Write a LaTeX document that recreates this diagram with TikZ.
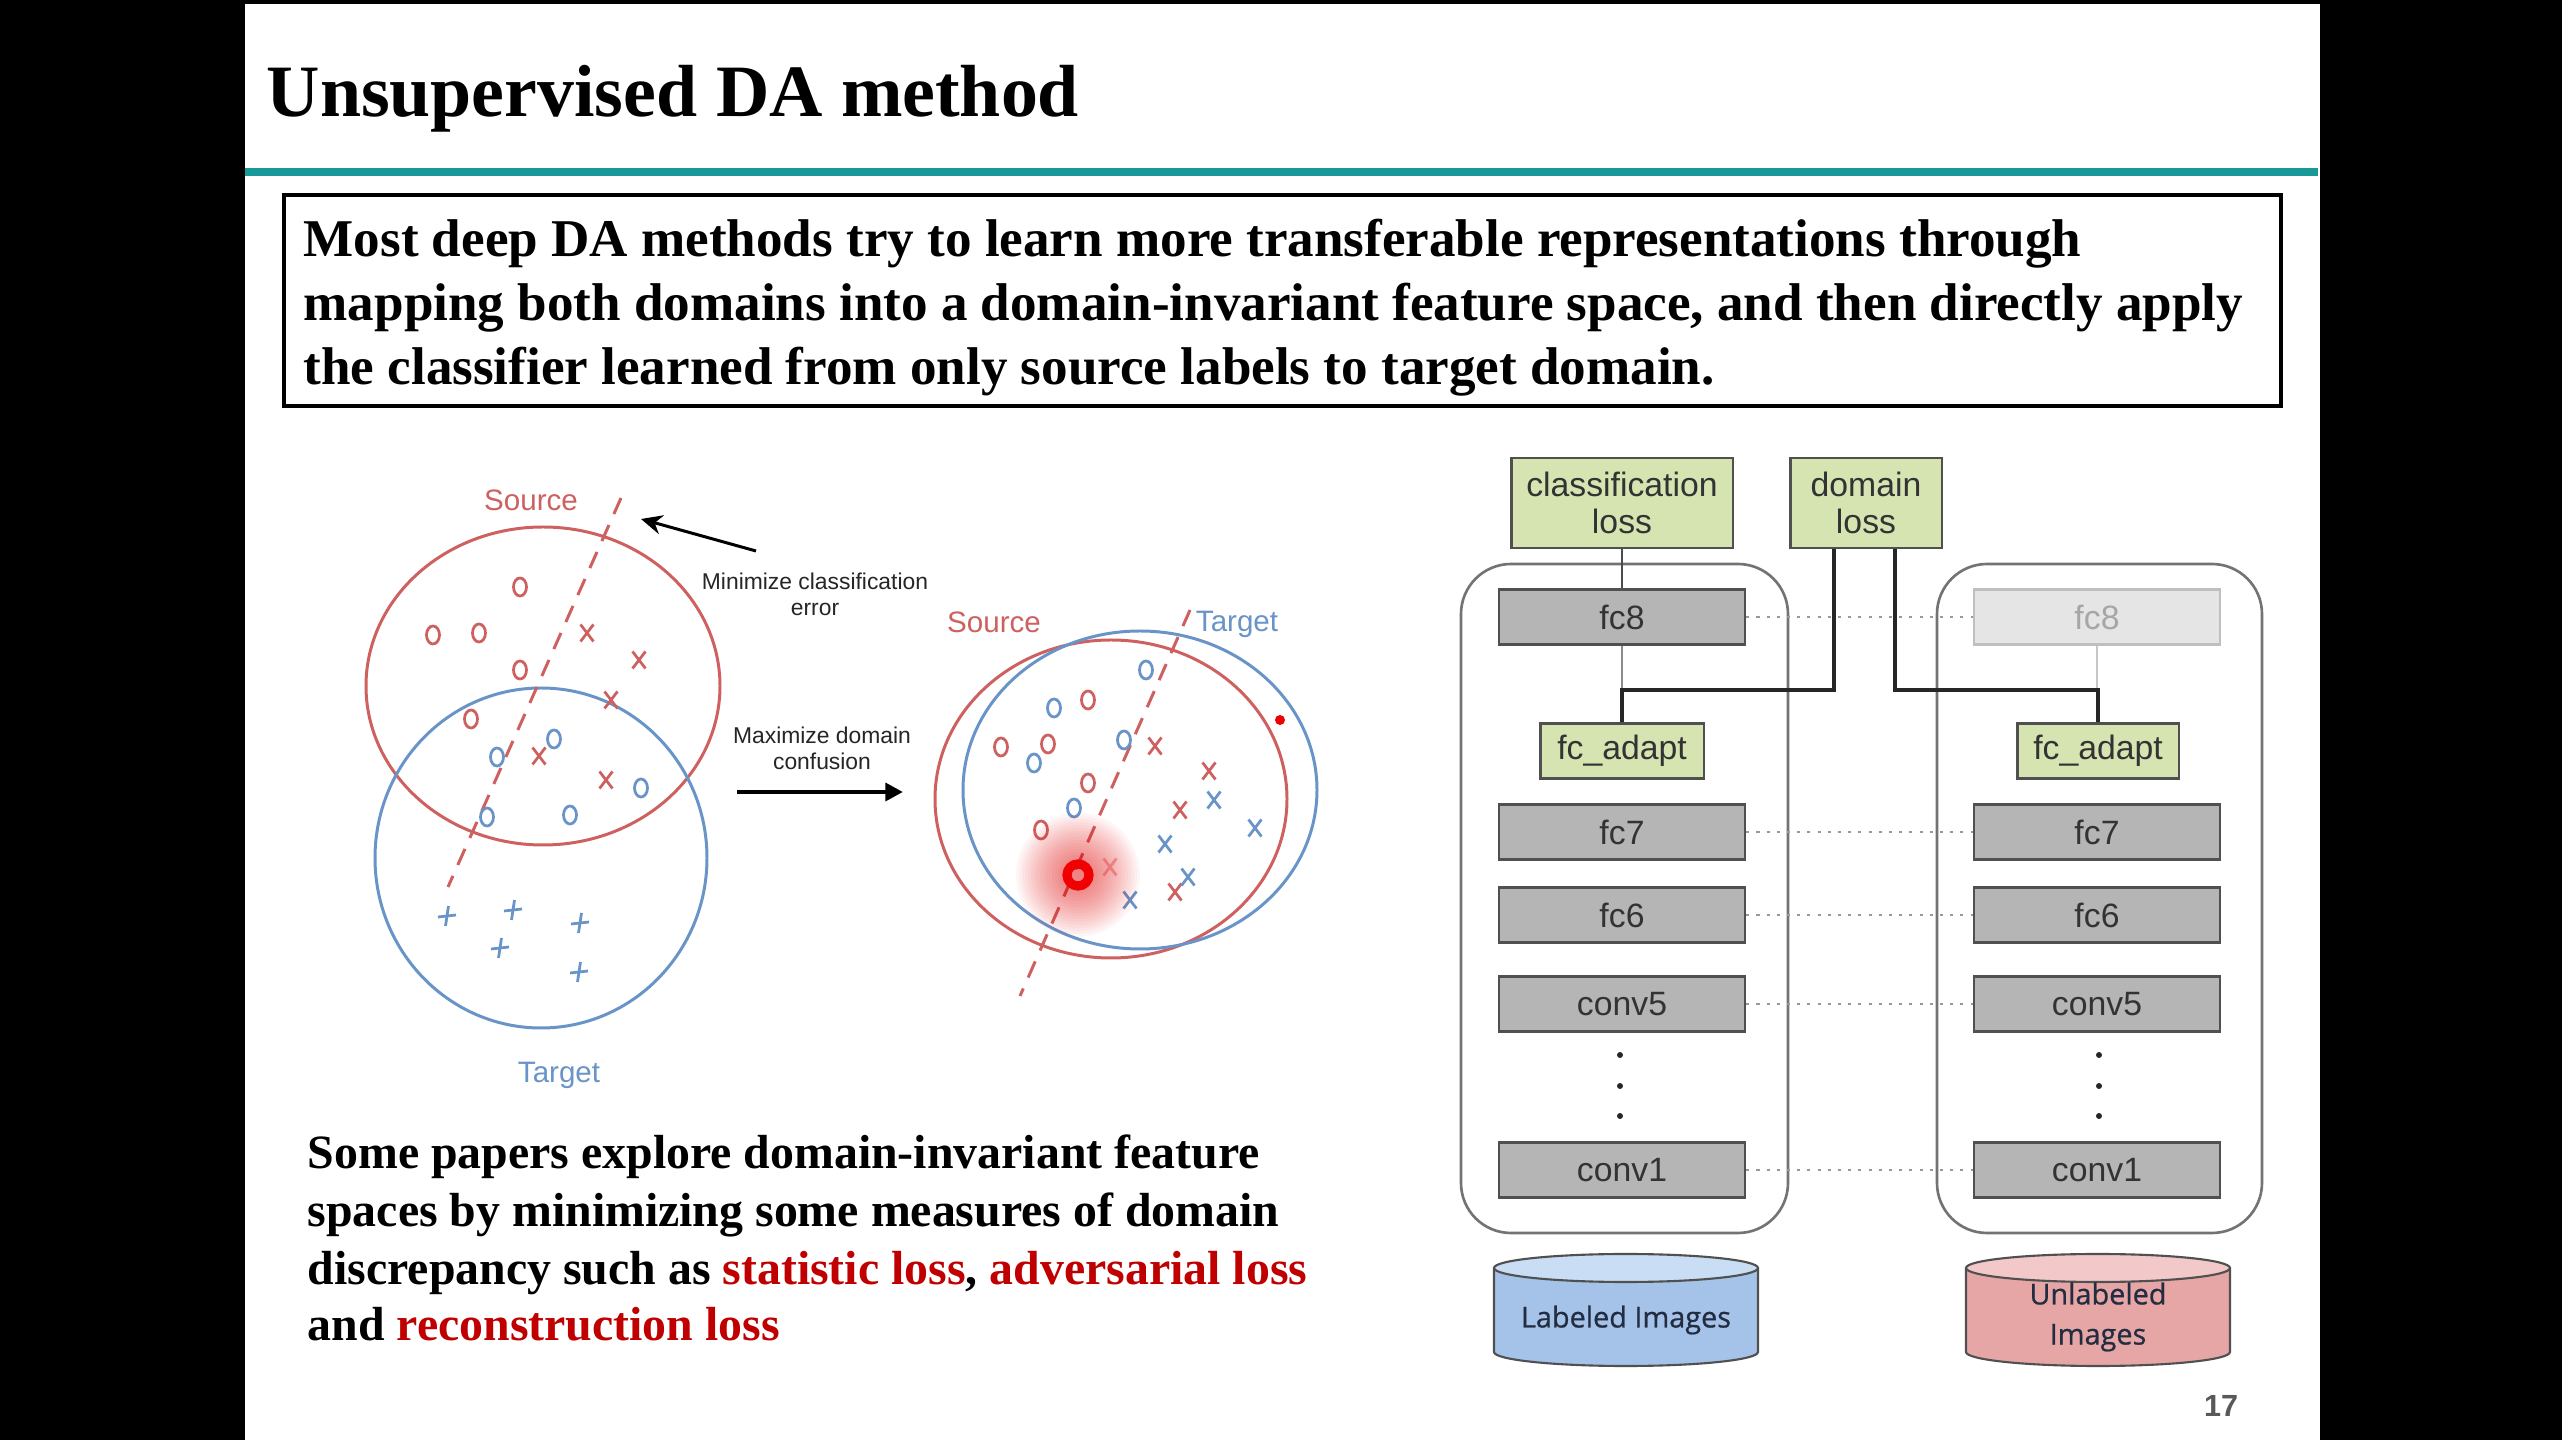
\documentclass[tikz,border=0pt]{standalone}
\usepackage{fontspec}
\setmainfont{Liberation Serif}
\setsansfont{Liberation Sans}
\newfontfamily\cylfont[FakeBold=0.7]{Open Sans}
\usetikzlibrary{arrows.meta}

\definecolor{rulecol}{RGB}{24,152,150}
\definecolor{srcred}{RGB}{206,96,96}
\definecolor{tgtblue}{RGB}{104,148,200}
\definecolor{layergray}{RGB}{181,181,181}
\definecolor{layeredge}{RGB}{80,80,80}
\definecolor{lossgreen}{RGB}{214,228,178}
\definecolor{cylblue}{RGB}{165,195,233}
\definecolor{cylbluetop}{RGB}{201,221,244}
\definecolor{cylpink}{RGB}{230,166,166}
\definecolor{cylpinktop}{RGB}{242,200,200}
\definecolor{hired}{RGB}{192,0,0}
\definecolor{pointer}{RGB}{240,0,0}
\definecolor{cyltext}{RGB}{35,45,65}

\begin{document}
\begin{tikzpicture}[x=0.01cm, y=-0.01cm,
  mk/.style={line width=0.78pt},
  mo/.pic={\draw[pic actions] (0,0) ellipse [x radius=6.5, y radius=9];},
  mx/.pic={\draw[pic actions] (-6.5,-8.5)--(6.5,8.5) (-6.5,8.5)--(6.5,-8.5);},
  mp/.pic={\draw[pic actions] (-9,1)--(9,-1) (1.5,-10)--(-1.5,10);},
  titletext/.style={anchor=base west, inner sep=0pt, font=\fontsize{21}{25}\selectfont\bfseries},
  boxtext/.style={anchor=base west, inner sep=0pt, font=\fontsize{15.1}{18}\selectfont\bfseries},
  bodytext/.style={anchor=base west, inner sep=0pt, font=\fontsize{13.6}{16}\selectfont\bfseries},
  domlabel/.style={inner sep=0pt, font=\fontsize{8.4}{10}\selectfont\sffamily},
  notelabel/.style={inner sep=0pt, align=center, text=black!85, font=\fontsize{6.5}{7.4}\selectfont\sffamily},
  ellline/.style={line width=0.85pt},
  boundary/.style={srcred, line width=0.85pt, dash pattern=on 5pt off 3.4pt},
  layer/.style={draw=layeredge, fill=layergray, line width=0.6pt, minimum width=2.46cm,
    minimum height=0.55cm, inner sep=0pt, text=black!80, font=\fontsize{9.6}{11}\selectfont\sffamily},
  ghostlayer/.style={layer, draw=black!25, fill=black!10, text=black!35},
  loss/.style={draw=layeredge, fill=lossgreen, line width=0.6pt, inner sep=0pt, align=center,
    text=black!80, font=\fontsize{9.6}{10.6}\selectfont\sffamily},
  container/.style={draw=black!55, line width=0.75pt, rounded corners=0.5cm},
  link/.style={black!70, line width=0.6pt},
  domlink/.style={black!85, line width=0.9pt},
  faintlink/.style={black!22, line width=0.6pt},
  share/.style={black!40, line width=0.75pt, dash pattern=on 0.9pt off 2pt},
  cyledge/.style={draw=layeredge, line width=0.6pt},
  cyllabel/.style={inner sep=0pt, align=center, text=cyltext, font=\cylfont\fontsize{8.2}{11.4}\selectfont}
]
\useasboundingbox (0,0) rectangle (2562,1440);

% slide background
\fill[black] (0,0) rectangle (2562,1440);
\fill[white] (245,4) rectangle (2320,1440);

% title and rule
\node[titletext] (title) at (266,117) {Unsupervised DA method};
\draw[rulecol, line width=2.3pt] (245,172) -- (2318,172);

% framed statement
\draw[line width=1.1pt] (284,195) rectangle (2281,406);
\node[boxtext] (bl1) at (303,257) {Most deep DA methods try to learn more transferable representations through};
\node[boxtext] (bl2) at (303,321) {mapping both domains into a domain-invariant feature space, and then directly apply};
\node[boxtext] (bl3) at (303,385) {the classifier learned from only source labels to target domain.};

% ---------- left scatter: before adaptation ----------
\draw[srcred, ellline] (543,686) ellipse [x radius=177, y radius=159];
\draw[tgtblue, ellline] (541,858) ellipse [x radius=166, y radius=170];
\draw[boundary] (621,498) -- (448,887);
\node[domlabel, text=srcred] (srcA) at (531,500) {Source};
\node[domlabel, text=tgtblue] (tgtA) at (559,1075) {Target};

\foreach \p in {(520,587),(433,635),(479,633),(520,670),(471,719)}
  \pic[srcred, mk] at \p {mo};
\foreach \p in {(587,633),(639,660),(611,700),(539,756),(606,780)}
  \pic[srcred, mk] at \p {mx};
\foreach \p in {(554,739),(497,757),(641,788),(487,817),(570,815)}
  \pic[tgtblue, mk] at \p {mo};
\foreach \p in {(447,916),(513,910),(580,923),(500,948),(579,972)}
  \pic[tgtblue, mk] at \p {mp};

% annotations between the two scatters
\node[notelabel] (minA) at (815,594) {Minimize classification\\error};
\coordinate (minTail) at (756,551);
\coordinate (minHead) at (641,519);
\draw[black, line width=0.85pt, -{Stealth[length=6pt, width=5.5pt]}] (minTail) -- (minHead);

\node[notelabel] (maxA) at (822,748) {Maximize domain\\confusion};
\coordinate (maxTail) at (737,792);
\coordinate (maxHead) at (903,792);
\draw[black, line width=1.4pt, -{Triangle[length=5pt, width=5pt]}] (maxTail) -- (maxHead);

% ---------- right scatter: after adaptation ----------
\draw[srcred, ellline] (1111,799) ellipse [x radius=176, y radius=159];
\draw[tgtblue, ellline] (1140,790) ellipse [x radius=177, y radius=159];
\draw[boundary] (1190,610) -- (1020,996);
\node[domlabel, text=srcred] (srcB) at (994,622) {Source};
\node[domlabel, text=tgtblue] (tgtB) at (1237,624) {Target};

\foreach \p in {(1146,670),(1054,708),(1034,763),(1124,740),(1074,808)}
  \pic[tgtblue, mk] at \p {mo};
\foreach \p in {(1088,700),(1001,747),(1048,744),(1088,783),(1041,830)}
  \pic[srcred, mk] at \p {mo};
\foreach \p in {(1155,746),(1209,771),(1180,810),(1175,892)}
  \pic[srcred, mk] at \p {mx};
\pic[srcred!45, mk] at (1110,867) {mx};
\foreach \p in {(1214,800),(1255,828),(1165,844),(1188,877),(1130,900)}
  \pic[tgtblue, mk] at \p {mx};

% pointer highlight
\foreach \r in {62,59,...,14}
  \fill[pointer, fill opacity=0.035] (1078,875) circle (\r);
\draw[pointer, line width=2.6pt] (1078,875) circle (11);
\fill[pointer] (1280,720) circle (5);

% bottom statement
\node[bodytext] (tl1) at (307,1169) {Some papers explore domain-invariant feature};
\node[bodytext] (tl2) at (307,1227) {spaces by minimizing some measures of domain};
\node[bodytext] (tl3) at (307,1285) {discrepancy such as \textcolor{hired}{statistic loss}, \textcolor{hired}{adversarial loss}};
\node[bodytext] (tl4) at (307,1341) {and \textcolor{hired}{reconstruction loss}};

% ---------- two-stream network ----------
\draw[container] (1461,564) rectangle (1788,1233);
\draw[container] (1937,564) rectangle (2262,1233);

\node[loss, minimum width=2.21cm, minimum height=0.9cm] (cls) at (1622,503) {classification\\loss};
\node[loss, minimum width=1.51cm, minimum height=0.9cm] (dom) at (1866,503) {domain\\loss};

\node[layer] (lfc8) at (1622,617) {fc8};
\node[ghostlayer] (rfc8) at (2097,617) {fc8};
\node[loss, minimum width=1.63cm, minimum height=0.55cm] (lada) at (1622,751) {fc\_adapt};
\node[loss, minimum width=1.61cm, minimum height=0.55cm] (rada) at (2098,751) {fc\_adapt};
\node[layer] (lfc7) at (1622,832) {fc7};
\node[layer] (rfc7) at (2097,832) {fc7};
\node[layer] (lfc6) at (1622,915) {fc6};
\node[layer] (rfc6) at (2097,915) {fc6};
\node[layer] (lc5) at (1622,1004) {conv5};
\node[layer] (rc5) at (2097,1004) {conv5};
\node[layer] (lc1) at (1622,1170) {conv1};
\node[layer] (rc1) at (2097,1170) {conv1};

\foreach \yy in {1055,1086,1116} {
  \fill[black!85] (1620,\yy) circle (3);
  \fill[black!85] (2099,\yy) circle (3);
}

% shared-weight ties
\foreach \a/\b in {lfc8/rfc8, lfc7/rfc7, lfc6/rfc6, lc5/rc5, lc1/rc1}
  \draw[share] (\a.east) -- (\b.west);

% loss connections
\coordinate (jl) at (1622,690);
\coordinate (jr) at (2098,690);
\draw[link] (cls.south) -- (lfc8.north);
\draw[faintlink, black!45] (lfc8.south) -- (jl);
\draw[faintlink] (rfc8.south |- rfc8.south) -- (rfc8.south |- jr);
\draw[domlink] ([xshift=-0.32cm]dom.south) |- (jl) -- (lada.north);
\draw[domlink] ([xshift=0.29cm]dom.south) |- (jr) -- (rada.north);

% image sources
\filldraw[fill=cylblue, cyledge] (1494,1268) -- (1494,1352)
  arc[start angle=180, end angle=0, x radius=132, y radius=14] -- (1758,1268);
\filldraw[fill=cylbluetop, cyledge] (1626,1268) ellipse [x radius=132, y radius=14];
\node[cyllabel] (labimg) at (1626,1320) {Labeled Images};

\filldraw[fill=cylpink, cyledge] (1966,1268) -- (1966,1352)
  arc[start angle=180, end angle=0, x radius=132, y radius=14] -- (2230,1268);
\filldraw[fill=cylpinktop, cyledge] (2098,1268) ellipse [x radius=132, y radius=14];
\node[cyllabel] (unlabimg) at (2098,1317) {Unlabeled\\Images};

% page number
\node[inner sep=0pt, text=black!65, font=\fontsize{8.7}{10}\selectfont\sffamily\bfseries] (pageno) at (2221,1406) {17};
\end{tikzpicture}
\end{document}
